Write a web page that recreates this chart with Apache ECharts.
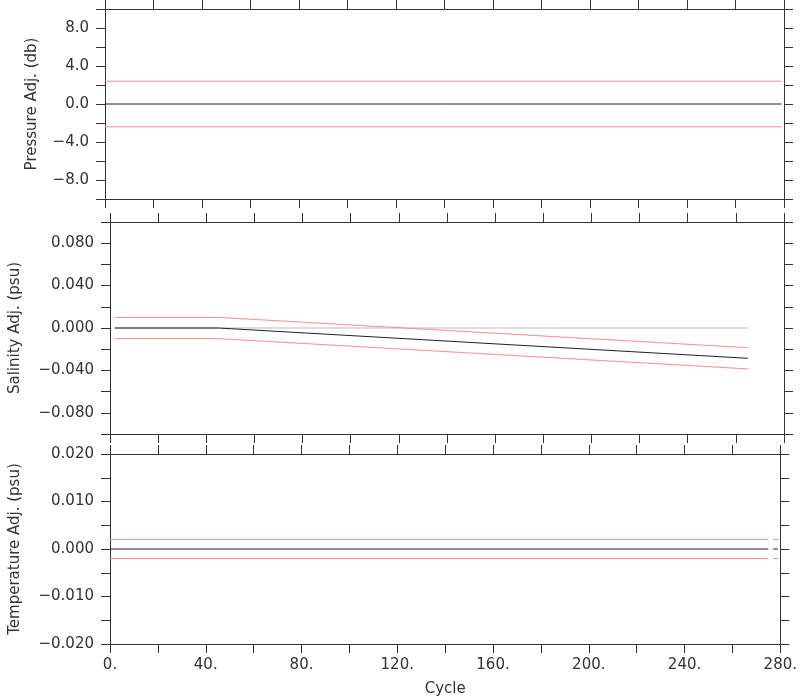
<!DOCTYPE html>
<html>
<head>
<meta charset="utf-8">
<script src="https://cdn.jsdelivr.net/npm/echarts@6/dist/echarts.min.js"></script>
<style>html,body{margin:0;padding:0;background:#fff;}#c{width:800px;height:700px;}</style>
</head>
<body>
<div id="c"></div>
<script>
// ---- data ----
var pressCycles = [0, 279];
var pressAdj    = [0, 0];
var pressUpper  = [2.4, 2.4];
var pressLower  = [-2.4, -2.4];

var salCycles = [2, 45, 265];
var salZero   = [0, 0, 0];
var salAdj    = [0, 0, -0.0286];
var salUpper  = [0.010, 0.010, -0.0186];
var salLower  = [-0.010, -0.010, -0.0386];

var tempCycles = [0, 275, 276, 277, 279];
var tempAdj    = [0, 0, '-', 0, 0];
var tempUpper  = [0.002, 0.002, '-', 0.002, 0.002];
var tempLower  = [-0.002, -0.002, '-', -0.002, -0.002];

var xTickLabels = ['0.', '40.', '80.', '120.', '160.', '200.', '240.', '280.'];
var yTitles = ['Pressure Adj. (db)', 'Salinity Adj. (psu)', 'Temperature Adj. (psu)'];
var xTitle = 'Cycle';

// ---- helpers ----
function pairs(xs, ys) { return xs.map(function (x, i) { return [x, ys[i]]; }); }
function minus(s) { return s.replace('-', '\u2212'); }

var AX = '#333';
var FONT = 'DejaVu Sans';
var grids = [
  {left: 105, right: 16, top: 9, height: 190},
  {left: 105, right: 16, top: 222, height: 212},
  {left: 105, right: 16, top: 454, height: 190}
];

var yCfg = [
  {min: -10, max: 10, interval: 2, fmt: function (v) {
      var r = Math.round(v * 10) / 10;
      if (Math.abs(r) > 9 || Math.round(r) % 4 !== 0) return '';
      return minus(r.toFixed(1));
    }, gap: 65},
  {min: -0.1, max: 0.1, interval: 0.02, fmt: function (v) {
      var m = Math.round(v * 1000);
      if (Math.abs(m) > 90 || m % 40 !== 0) return '';
      return minus((m / 1000).toFixed(3));
    }, gap: 87},
  {min: -0.02, max: 0.02, interval: 0.005, fmt: function (v) {
      var m = Math.round(v * 1000);
      if (Math.abs(Math.round(v * 10000)) % 100 !== 0) return '';
      return minus((m / 1000).toFixed(3));
    }, gap: 87}
];

var xAxes = [], yAxes = [];
for (var g = 0; g < 3; g++) {
  var isLast = g === 2;
  xAxes.push({
    type: 'value', gridIndex: g, position: 'bottom', min: 0, max: 280, interval: 20,
    axisLine: {show: true, onZero: false, lineStyle: {color: AX, width: 1}},
    axisTick: {show: true, inside: false, length: 9, lineStyle: {color: AX}},
    splitLine: {show: false},
    axisLabel: {show: isLast, margin: 14, color: '#333', fontFamily: FONT, fontSize: 15,
      formatter: function (v) { var i = Math.round(v) / 40; return (Math.round(v) % 40 === 0) ? xTickLabels[i] : ''; }},
    name: isLast ? xTitle : '', nameLocation: 'middle', nameGap: 38,
    nameTextStyle: {color: '#333', fontFamily: FONT, fontSize: 15}
  });
  xAxes.push({
    type: 'value', gridIndex: g, position: 'top', min: 0, max: 280, interval: 20,
    axisLine: {show: true, onZero: false, lineStyle: {color: AX, width: 1}},
    axisTick: {show: true, inside: false, length: 9, lineStyle: {color: AX}},
    splitLine: {show: false}, axisLabel: {show: false}
  });
  var c = yCfg[g];
  yAxes.push({
    type: 'value', gridIndex: g, position: 'left', min: c.min, max: c.max, interval: c.interval,
    axisLine: {show: true, onZero: false, lineStyle: {color: AX, width: 1}},
    axisTick: {show: true, inside: false, length: 9, lineStyle: {color: AX}},
    splitLine: {show: false},
    axisLabel: {show: true, margin: 16, color: '#333', fontFamily: FONT, fontSize: 15, formatter: c.fmt, showMinLabel: true, showMaxLabel: true},
    name: yTitles[g], nameLocation: 'middle', nameGap: c.gap, nameRotate: 90,
    nameTextStyle: {color: '#333', fontFamily: FONT, fontSize: 15}
  });
  yAxes.push({
    type: 'value', gridIndex: g, position: 'right', min: c.min, max: c.max, interval: c.interval,
    axisLine: {show: true, onZero: false, lineStyle: {color: AX, width: 1}},
    axisTick: {show: true, inside: false, length: 9, lineStyle: {color: AX}},
    splitLine: {show: false}, axisLabel: {show: false}
  });
}

function line(xi, yi, data, color, z) {
  return {type: 'line', xAxisIndex: xi, yAxisIndex: yi, data: data, showSymbol: false, symbol: 'none',
    connectNulls: false, silent: true, z: z || 2,
    lineStyle: {color: color, width: 1}, itemStyle: {color: color}};
}
var RED = '#ff8c8c', BLK = '#222', GRY = '#bbbbbb';

var series = [
  line(0, 0, pairs(pressCycles, pressUpper), RED),
  line(0, 0, pairs(pressCycles, pressLower), RED),
  line(0, 0, pairs(pressCycles, pressAdj), BLK, 3),
  line(2, 2, pairs(salCycles, salZero), GRY, 1),
  line(2, 2, pairs(salCycles, salUpper), RED),
  line(2, 2, pairs(salCycles, salLower), RED),
  line(2, 2, pairs(salCycles, salAdj), BLK, 3),
  line(4, 4, pairs(tempCycles, tempUpper), RED),
  line(4, 4, pairs(tempCycles, tempLower), RED),
  line(4, 4, pairs(tempCycles, tempAdj), BLK, 3)
];

var chart = echarts.init(document.getElementById('c'), null, {renderer: 'canvas'});
chart.setOption({
  animation: false,
  backgroundColor: '#fff',
  grid: grids,
  xAxis: xAxes,
  yAxis: yAxes,
  series: series
});
</script>
</body>
</html>
